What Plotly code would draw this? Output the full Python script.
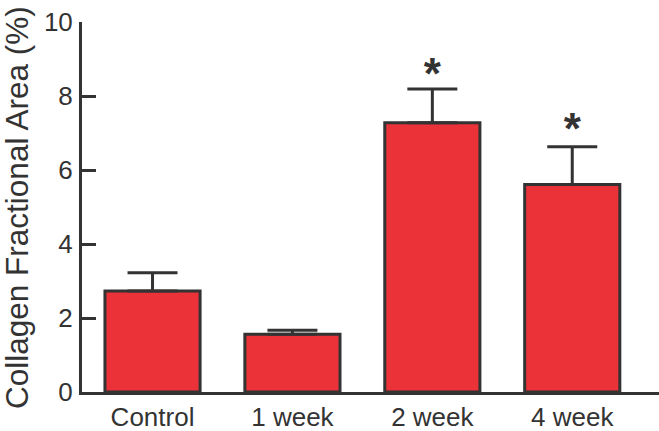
import plotly.graph_objects as go

categories = ["Control", "1 week", "2 week", "4 week"]
means = [2.73, 1.56, 7.28, 5.61]
sems = [0.49, 0.11, 0.91, 1.02]
sig_categories = ["2 week", "4 week"]
sig_y = [8.49, 7.0]
y_ticks = [0, 2, 4, 6, 8, 10]

INK = "#333333"
RED = "#EA3238"
FONT = "Liberation Sans, Arial, sans-serif"

fig = go.Figure()
fig.add_trace(go.Bar(
    x=categories, y=means,
    marker=dict(color=RED, line=dict(color=INK, width=3)),
    width=0.68,
    error_y=dict(type="data", array=sems, arrayminus=[0] * len(sems), symmetric=False,
                 color=INK, thickness=3, width=25),
    showlegend=False,
))
fig.add_trace(go.Scatter(
    x=sig_categories, y=sig_y, mode="text", text=["*"] * len(sig_y),
    textposition="middle center",
    textfont=dict(family=FONT, size=44, color=INK, weight="bold"),
    showlegend=False,
))

fig.update_layout(
    width=659, height=431,
    margin=dict(l=82, r=0, t=22, b=39),
    plot_bgcolor="white", paper_bgcolor="white",
    font=dict(family=FONT, color=INK),
    bargap=0.32,
)
fig.update_xaxes(
    range=[-0.504, 3.62], showline=True, linecolor=INK, linewidth=3,
    ticks="", showgrid=False, zeroline=False, automargin=False,
    tickfont=dict(size=26, color=INK), fixedrange=True,
)
fig.update_yaxes(
    range=[0, 10], tickvals=y_ticks, showline=True, linecolor=INK, linewidth=3,
    ticks="inside", ticklen=14, tickwidth=3, tickcolor=INK,
    showgrid=False, zeroline=False, automargin=False,
    tickfont=dict(size=26, color=INK), ticklabelstandoff=1,
)
fig.add_annotation(
    text="Collagen Fractional Area (%)", textangle=-90,
    xref="paper", yref="paper", x=0, y=0.5, xanchor="center", yanchor="middle",
    xshift=-65, yshift=-1, showarrow=False,
    font=dict(family=FONT, size=31.5, color=INK),
)
fig.write_html("out.html", config={"displayModeBar": False},
               post_script="document.body.style.margin='0';document.body.style.overflow='hidden';")
